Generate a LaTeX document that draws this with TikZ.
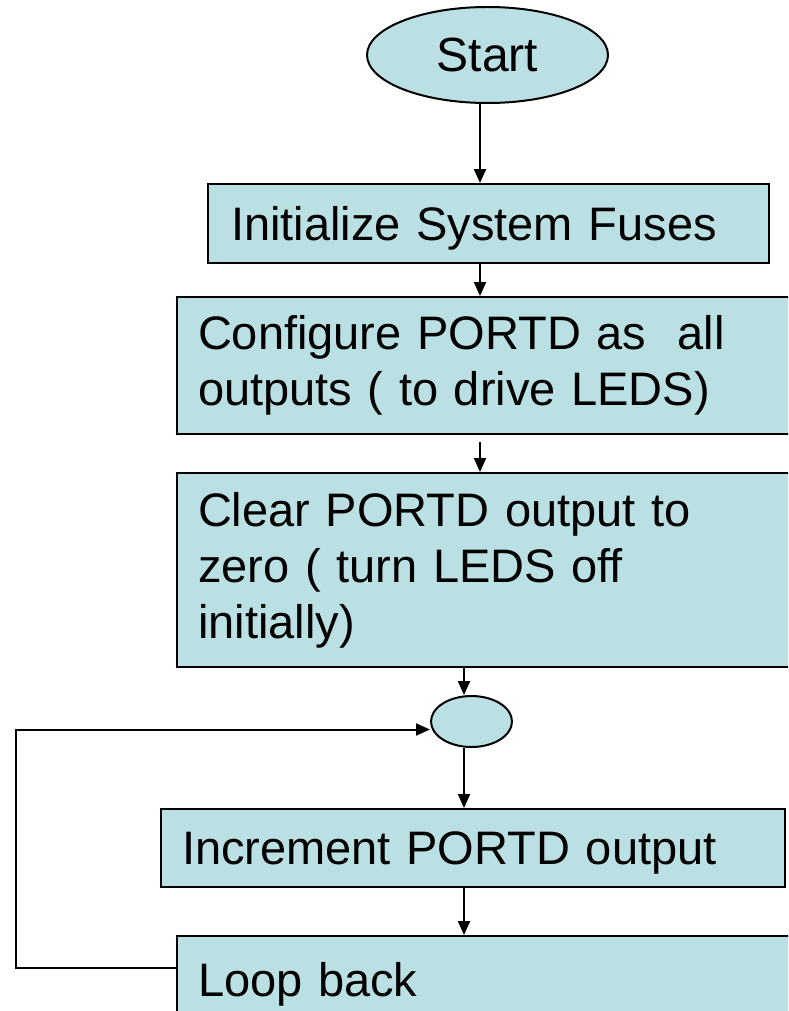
\documentclass[tikz,border=0pt]{standalone}
\usepackage{fontspec}
\setmainfont{Liberation Sans}
\usetikzlibrary{shapes.geometric,arrows.meta}
\definecolor{boxblue}{HTML}{BBE0E3}
\tikzstyle{blk}=[draw=black, line width=1pt, fill=boxblue, anchor=north west, align=left, inner xsep=10.5pt, inner ysep=0pt, font=\fontsize{23.5}{28}\selectfont]
\tikzstyle{oneline}=[text depth=0pt]
\tikzstyle{oval}=[ellipse, draw=black, line width=1pt, fill=boxblue, inner sep=0pt, font=\fontsize{24}{28}\selectfont]
\tikzstyle{arr}=[line width=1pt, -{Triangle[length=7pt,width=6pt]}]

\begin{document}
\begin{tikzpicture}[x=0.5pt, y=-0.5pt]
\useasboundingbox (0,0) rectangle (788,1011);
\clip (0,0) rectangle (788,1011);
% nodes
\node[oval, minimum width=120.5pt, minimum height=48pt] (start) at (487.5,55) {Start};
\node[blk, oneline, inner xsep=11.5pt, text width=257.5pt, minimum height=39.5pt] (fuses) at (207,183) {Initialize System Fuses};
\node[blk, text width=329pt, minimum height=68.5pt] (config) at (176,296) {Configure PORTD as \ all\\outputs ( to drive LEDS)};
\node[blk, text width=329pt, minimum height=97pt] (clear) at (176,472) {Clear PORTD output to\\zero ( turn LEDS off\\initially)};
\node[oval, minimum width=40.5pt, minimum height=25.5pt] (junc) at (471.5,721.5) {};
\node[blk, oneline, text width=291pt, minimum height=39pt] (incr) at (160,808) {Increment PORTD output};
\node[blk, oneline, text width=329pt, minimum height=43pt] (loop) at (176,935) {Loop back};
% helper columns
\coordinate (colA) at (480,0);
\coordinate (colB) at (464,0);
\coordinate (back) at (16,968);
% connectors
\draw[arr] (start.south -| colA) -- (fuses.north -| colA);
\draw[arr] (fuses.south -| colA) -- (config.north -| colA);
\draw[arr] ([yshift=-3.5pt]config.south -| colA) -- (clear.north -| colA);
\draw[arr] (clear.south -| colB) -- (junc.north -| colB);
\draw[arr] (junc.south -| colB) -- (incr.north -| colB);
\draw[arr] (incr.south -| colB) -- (loop.north -| colB);
\draw[arr] (loop.west |- back) -- (back) |- ([yshift=-4pt]junc.west);
\end{tikzpicture}
\end{document}
